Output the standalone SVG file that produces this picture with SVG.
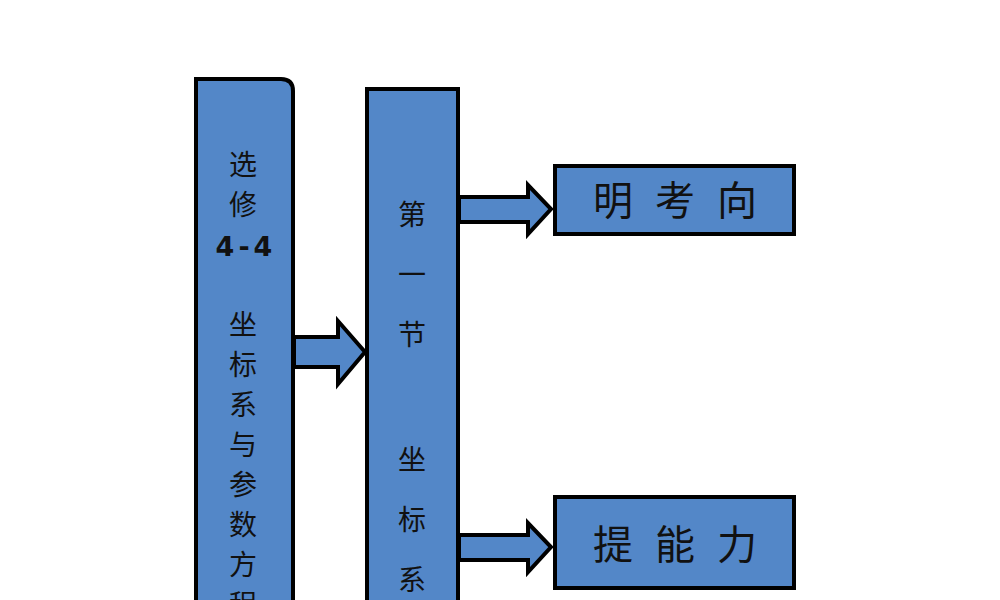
<svg xmlns="http://www.w3.org/2000/svg" width="1000" height="600" viewBox="0 0 1000 600">
<style>
.b{fill:#5387c8;stroke:#000;stroke-width:4}
.t{font-family:"Noto Sans CJK SC",sans-serif;font-size:28px;fill:#111;text-anchor:middle}
.r{font-family:"Noto Sans CJK SC",sans-serif;font-size:40px;fill:#111;text-anchor:middle;letter-spacing:22px}
</style>
<rect width="1000" height="600" fill="#fff"/>
<g id="left">
<path class="b" d="M196 79 H281 Q293 79 293 91 V620 H196 Z"/>
<text class="t" x="243" y="175">选</text>
<text class="t" x="243" y="215">修</text>
<text class="t" x="246" y="256" style="font-family:'DejaVu Sans',sans-serif;font-weight:bold;font-size:27px;letter-spacing:4px">4-4</text>
<text class="t" x="243" y="335">坐</text>
<text class="t" x="243" y="375">标</text>
<text class="t" x="243" y="415">系</text>
<text class="t" x="243" y="455">与</text>
<text class="t" x="243" y="495">参</text>
<text class="t" x="243" y="535">数</text>
<text class="t" x="243" y="575">方</text>
<text class="t" x="243" y="615">程</text>
</g>
<g id="mid">
<rect class="b" x="367" y="89" width="91" height="540"/>
<text class="t" x="412" y="225">第</text>
<text class="t" x="412" y="285">一</text>
<text class="t" x="412" y="345">节</text>
<text class="t" x="412" y="470">坐</text>
<text class="t" x="412" y="530">标</text>
<text class="t" x="412" y="590">系</text>
</g>
<g id="top">
<rect class="b" x="555" y="166" width="239" height="68"/>
<text class="r" x="686" y="215">明考向</text>
</g>
<g id="bottom">
<rect class="b" x="555" y="497" width="239" height="91"/>
<text class="r" x="686" y="559">提能力</text>
</g>
<g id="connectors">
<path class="b" d="M294 337 H338 V321 L365 352 L338 384 V367 H294 Z"/>
<path class="b" d="M459 197 H528 V185 L551 209 L528 234 V222 H459 Z"/>
<path class="b" d="M459 535 H528 V523 L551 547 L528 572 V560 H459 Z"/>
</g>
</svg>
